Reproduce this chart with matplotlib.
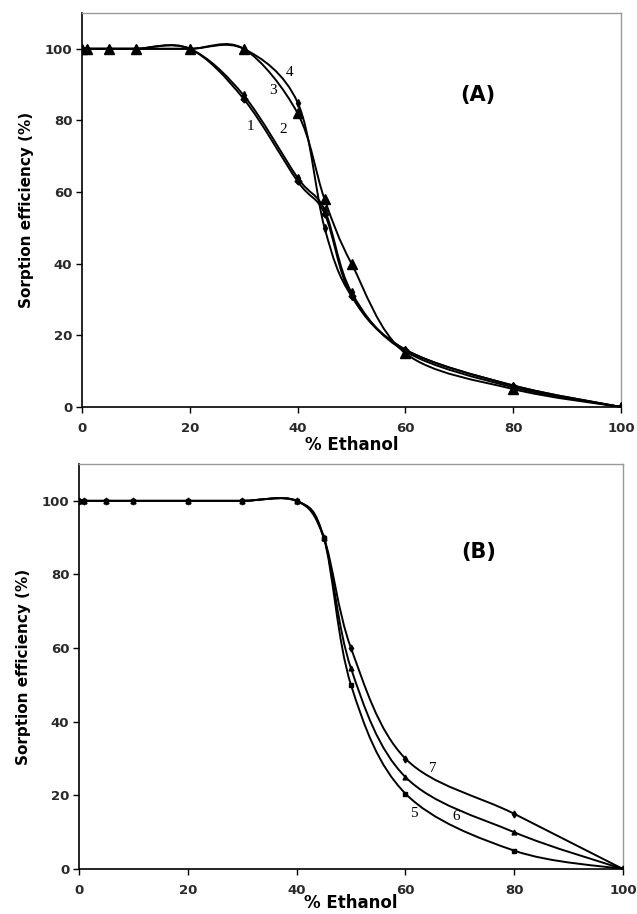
import numpy as np
import matplotlib
matplotlib.use("Agg")
import matplotlib.pyplot as plt
from matplotlib.path import Path
from matplotlib.patches import PathPatch

# ---------------- data ----------------
ethanol = [0, 1, 5, 10, 20, 30, 40, 45, 50, 60, 80, 100]

# Panel A
curve1 = [100, 100, 100, 100, 100, 86, 63, 54, 31, 16, 6, 0]
curve2 = [100, 100, 100, 100, 100, 87, 64, 55, 32, 15.5, 5.5, 0]
curve3 = [100, 100, 100, 100, 100, 100, 82, 58, 40, 15, 5, 0]
curve4 = [100, 100, 100, 100, 100, 100, 85, 50, 31, 16, 6, 0]

# Panel B
curve5 = [100, 100, 100, 100, 100, 100, 100, 90, 50, 20.5, 5, 0]
curve6 = [100, 100, 100, 100, 100, 100, 100, 90, 54.5, 25, 10, 0]
curve7 = [100, 100, 100, 100, 100, 100, 100, 90, 60, 30, 15, 0]

x_ticks = [0, 20, 40, 60, 80, 100]
y_ticks = [0, 20, 40, 60, 80, 100]


def smooth_path(x, y):
    """Excel-like smoothed line (Catmull-Rom as cubic Bezier) in data coords."""
    P = np.column_stack([x, y]).astype(float)
    n = len(P)
    verts = [P[0]]
    codes = [Path.MOVETO]
    for i in range(n - 1):
        p0 = P[i - 1] if i > 0 else P[i]
        p1 = P[i]
        p2 = P[i + 1]
        p3 = P[i + 2] if i + 2 < n else P[i + 1]
        c1 = p1 + (p2 - p0) / 6.0
        c2 = p2 - (p3 - p1) / 6.0
        verts += [c1, c2, p2]
        codes += [Path.CURVE4] * 3
    return Path(verts, codes)


def draw(ax, x, y, marker, ms):
    ax.add_patch(PathPatch(smooth_path(x, y), facecolor="none",
                           edgecolor="black", lw=1.4, zorder=3))
    ax.plot(x, y, linestyle="none", marker=marker, ms=ms, color="black",
            zorder=4)


def style(ax, label_positions, xlabelpad):
    ax.set_xlim(0, 100)
    ax.set_ylim(0, 110)
    ax.set_xticks(x_ticks)
    ax.set_yticks(y_ticks)
    ax.set_xticklabels([str(v) for v in x_ticks], fontweight="bold",
                       fontsize=9.5, color="#2a2a2a")
    ax.set_yticklabels([str(v) for v in y_ticks], fontweight="bold",
                       fontsize=9.5, color="#2a2a2a")
    ax.tick_params(direction="out", length=4, width=1.0)
    ax.tick_params(axis="x", pad=7)
    ax.tick_params(axis="y", pad=3)
    for s in ["left", "bottom"]:
        ax.spines[s].set_color("black")
        ax.spines[s].set_linewidth(1.2)
    for s in ["top", "right"]:
        ax.spines[s].set_color("#999999")
        ax.spines[s].set_linewidth(1.0)
    ax.set_xlabel("% Ethanol", fontweight="bold", fontsize=12,
                  labelpad=xlabelpad)
    ax.set_ylabel("Sorption efficiency (%)", fontweight="bold", fontsize=11,
                  labelpad=8)
    for txt, (tx, ty) in label_positions.items():
        ax.text(tx, ty, txt, fontsize=11, family="Liberation Serif",
                ha="center", va="center", zorder=5)


fig = plt.figure(figsize=(6.37, 9.14), dpi=100)
fig.patch.set_facecolor("white")

axA = fig.add_axes([0.1287, 0.5547, 0.975 - 0.1287, 0.9858 - 0.5547])
draw(axA, ethanol, curve1, "D", 3.5)
draw(axA, ethanol, curve2, "d", 4)
draw(axA, ethanol, curve4, "d", 4)
draw(axA, ethanol, curve3, "^", 7)
style(axA, {"1": (31.3, 78.3), "2": (37.3, 77.4),
            "3": (35.5, 88.3), "4": (38.5, 93.4)}, 0.5)
axA.text(73.5, 87, "(A)", fontsize=15, fontweight="bold",
         ha="center", va="center")

axB = fig.add_axes([0.124, 0.0492, 0.978 - 0.124, 0.4923 - 0.0492])
draw(axB, ethanol, curve5, "s", 3)
draw(axB, ethanol, curve6, "^", 3.5)
draw(axB, ethanol, curve7, "d", 3.5)
style(axB, {"5": (61.5, 15.1), "6": (69.3, 14.2), "7": (65.1, 27.3)}, -2.5)
axB.text(73.5, 86.2, "(B)", fontsize=15, fontweight="bold",
         ha="center", va="center")

fig.savefig("out.png", dpi=100)
